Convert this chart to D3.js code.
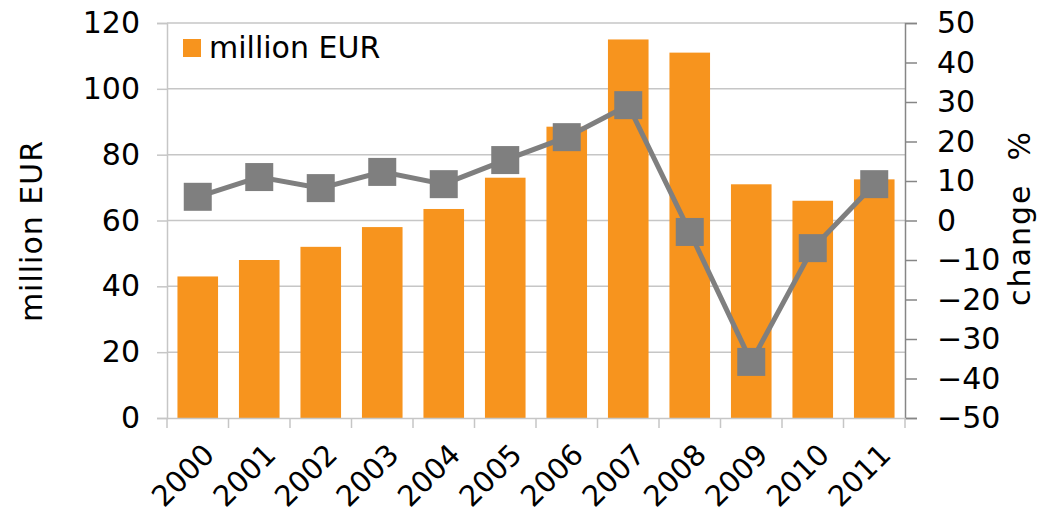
<!DOCTYPE html>
<html>
<head>
<meta charset="utf-8">
<script src="https://cdn.jsdelivr.net/npm/d3@7"></script>
<style>
  body { margin: 0; background: #fff; }
  text { font-family: "DejaVu Sans", Verdana, sans-serif; fill: #000; }
</style>
</head>
<body>
<svg id="chart" width="1039" height="519"></svg>
<script>
var years = ["2000","2001","2002","2003","2004","2005","2006","2007","2008","2009","2010","2011"];
var millionEur = [43, 48, 52, 58, 63.5, 73, 88.5, 115, 111, 71, 66, 72.5];
var changePct = [6, 11, 8.2, 12.3, 9.2, 15.3, 21.1, 29.2, -2.9, -35.8, -7, 9.2];
var leftTicks = [0, 20, 40, 60, 80, 100, 120];
var rightTicks = [-50, -40, -30, -20, -10, 0, 10, 20, 30, 40, 50];

var svg = d3.select("#chart");
var plotLeft = 167, plotRight = 905, plotTop = 23, plotBottom = 418;

var x = d3.scaleBand()
    .domain(years)
    .range([plotLeft, plotRight])
    .paddingInner(0.34)
    .paddingOuter(0.17);
var xb = d3.scaleBand().domain(years).range([plotLeft, plotRight]);
var y = d3.scaleLinear().domain([0, 120]).range([plotBottom, plotTop]);
var y2 = d3.scaleLinear().domain([-50, 50]).range([plotBottom, plotTop]);

// gridlines
svg.append("g").selectAll("line")
    .data(leftTicks.slice(1))
    .enter().append("line")
    .attr("x1", plotLeft).attr("x2", plotRight)
    .attr("y1", d => y(d)).attr("y2", d => y(d))
    .attr("stroke", "#c6c6c6").attr("stroke-width", 1.5);

// bars
svg.selectAll("rect.bar")
    .data(millionEur)
    .enter().append("rect")
    .attr("class", "bar")
    .attr("x", (d, i) => x(years[i]))
    .attr("y", d => y(d))
    .attr("width", x.bandwidth())
    .attr("height", d => plotBottom - y(d))
    .attr("fill", "#f7941e");

// left axis
var axisL = d3.axisLeft(y).tickValues(leftTicks).tickSize(10).tickPadding(17);
var gL = svg.append("g").attr("transform", "translate(" + plotLeft + ",0)").call(axisL);
gL.select(".domain").attr("stroke", "#c6c6c6").attr("stroke-width", 1.5);
gL.selectAll(".tick line").attr("stroke", "#c6c6c6").attr("stroke-width", 1.5);
gL.selectAll("text").style("font-size", "30px").style("font-family", "DejaVu Sans");

// right axis
var axisR = d3.axisRight(y2).tickValues(rightTicks).tickSize(12).tickPadding(20);
var gR = svg.append("g").attr("transform", "translate(" + plotRight + ",0)").call(axisR);
gR.select(".domain").attr("stroke", "#868686").attr("stroke-width", 1.5);
gR.selectAll(".tick line").attr("stroke", "#868686").attr("stroke-width", 1.5);
gR.selectAll("text").style("font-size", "30px").style("font-family", "DejaVu Sans");

// bottom axis
var axisB = d3.axisBottom(xb).tickValues([]).tickSizeOuter(0);
var gB = svg.append("g").attr("transform", "translate(0," + plotBottom + ")").call(axisB);
gB.select(".domain").attr("stroke", "#c6c6c6").attr("stroke-width", 1.5);
gB.selectAll("line.xt")
    .data(years.concat(["end"]))
    .enter().append("line")
    .attr("class", "xt")
    .attr("x1", (d, i) => plotLeft + i * xb.bandwidth())
    .attr("x2", (d, i) => plotLeft + i * xb.bandwidth())
    .attr("y1", 0).attr("y2", 10)
    .attr("stroke", "#c6c6c6").attr("stroke-width", 1.5);
gB.selectAll("text.xl")
    .data(years)
    .enter().append("text")
    .attr("class", "xl")
    .attr("transform", d => "translate(" + (xb(d) + xb.bandwidth() / 2 + 4) + ",24) rotate(-45)")
    .attr("text-anchor", "end")
    .attr("dy", "0.7em")
    .style("font-size", "29px")
    .style("font-family", "DejaVu Sans")
    .text(d => d);

// line series
var line = d3.line()
    .x((d, i) => xb(years[i]) + xb.bandwidth() / 2)
    .y(d => y2(d));
svg.append("path")
    .datum(changePct)
    .attr("d", line)
    .attr("fill", "none")
    .attr("stroke", "#7f7f7f")
    .attr("stroke-width", 5);
svg.selectAll("rect.mk")
    .data(changePct)
    .enter().append("rect")
    .attr("class", "mk")
    .attr("x", (d, i) => xb(years[i]) + xb.bandwidth() / 2 - 14)
    .attr("y", d => y2(d) - 14)
    .attr("width", 28).attr("height", 28)
    .attr("fill", "#7f7f7f");

// legend
svg.append("rect").attr("x", 183).attr("y", 39).attr("width", 18).attr("height", 18).attr("fill", "#f7941e");
svg.append("text").attr("x", 209).attr("y", 58).style("font-size", "30px").text("million EUR");

// axis titles
svg.append("text")
    .attr("transform", "translate(42,231) rotate(-90)")
    .attr("text-anchor", "middle")
    .style("font-size", "30px")
    .style("letter-spacing", "1px")
    .text("million EUR");
svg.append("text")
    .attr("transform", "translate(1030,218) rotate(-90)")
    .attr("text-anchor", "middle")
    .style("font-size", "30px")
    .style("letter-spacing", "2px")
    .style("white-space", "pre")
    .text("change  %");
</script>
</body>
</html>
